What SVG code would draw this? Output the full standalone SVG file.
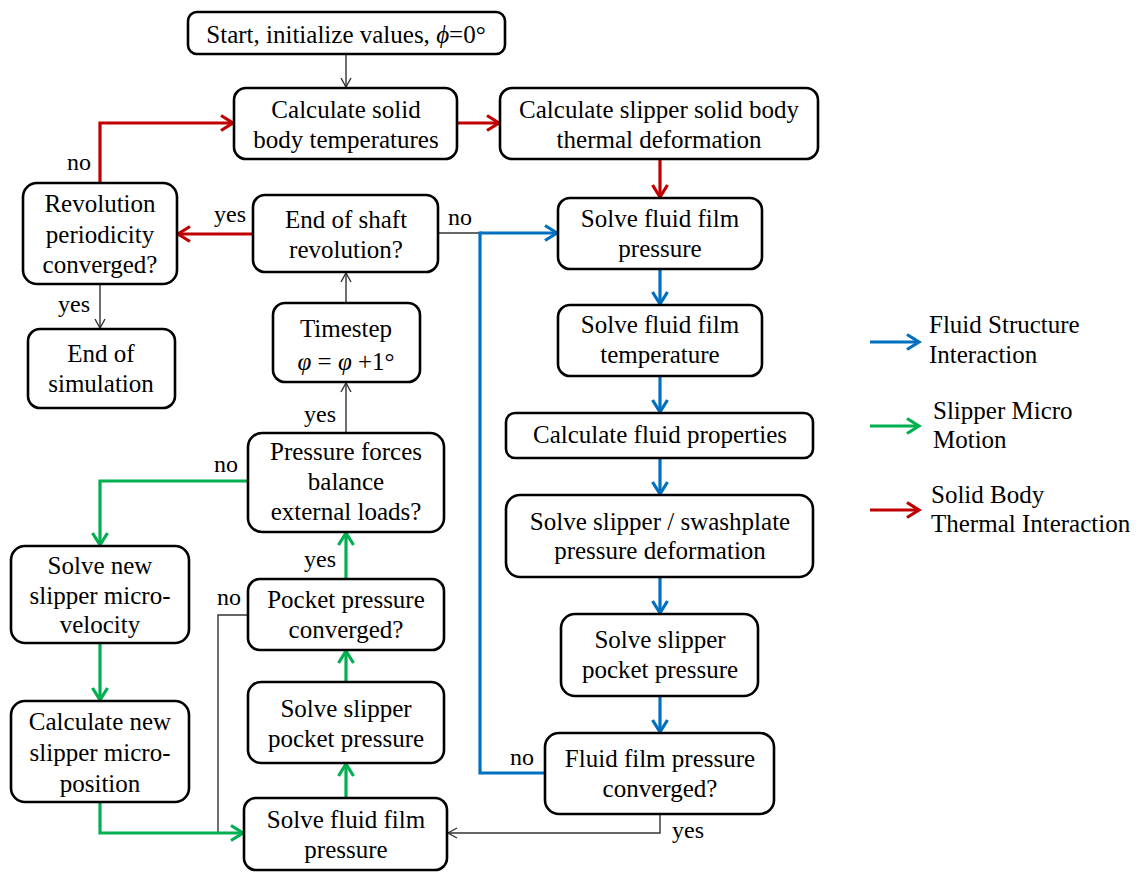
<svg xmlns="http://www.w3.org/2000/svg" width="1144" height="878" viewBox="0 0 1144 878">
  <style>
    .box { fill: #ffffff; stroke: #000000; stroke-width: 2.6; }
    .t { font-family: "Liberation Serif", "Times New Roman", serif; font-size: 25px; fill: #000000; text-anchor: middle; }
    .lbl { font-family: "Liberation Serif", "Times New Roman", serif; font-size: 24px; fill: #000000; }
    .leg { font-family: "Liberation Serif", "Times New Roman", serif; font-size: 25px; fill: #000000; }
    .thin { fill: none; stroke: #333333; stroke-width: 1.4; }
    .red { fill: none; stroke: #C00000; stroke-width: 3.2; }
    .blue { fill: none; stroke: #0070C0; stroke-width: 3.2; }
    .green { fill: none; stroke: #00B050; stroke-width: 3.2; }
    .it { font-style: italic; }
  </style>
  <defs>
    <marker id="ah-black" markerUnits="userSpaceOnUse" markerWidth="14" markerHeight="14" refX="10" refY="6" orient="auto">
      <path d="M1,1 L10,6 L1,11" fill="none" stroke="#333333" stroke-width="1.4"/>
    </marker>
    <marker id="ah-red" markerUnits="userSpaceOnUse" markerWidth="18" markerHeight="20" refX="14" refY="9" orient="auto">
      <path d="M2,1.5 L14,9 L2,16.5" fill="none" stroke="#C00000" stroke-width="3.2"/>
    </marker>
    <marker id="ah-blue" markerUnits="userSpaceOnUse" markerWidth="18" markerHeight="20" refX="14" refY="9" orient="auto">
      <path d="M2,1.5 L14,9 L2,16.5" fill="none" stroke="#0070C0" stroke-width="3.2"/>
    </marker>
    <marker id="ah-green" markerUnits="userSpaceOnUse" markerWidth="18" markerHeight="20" refX="14" refY="9" orient="auto">
      <path d="M2,1.5 L14,9 L2,16.5" fill="none" stroke="#00B050" stroke-width="3.2"/>
    </marker>
  </defs>

  <rect width="1144" height="878" fill="#ffffff"/>

  <!-- connectors -->
  <g id="connectors">
    <!-- main thread (thin black) -->
    <path class="thin" d="M346,54 L346,87" marker-end="url(#ah-black)"/>
    <path class="thin" d="M100,284 L100,328" marker-end="url(#ah-black)"/>
    <path class="thin" d="M346,303 L346,273" marker-end="url(#ah-black)"/>
    <path class="thin" d="M346,433 L346,383" marker-end="url(#ah-black)"/>
    <path class="thin" d="M438,233 L481,233"/>
    <path class="thin" d="M248,615 L218,615 L218,833"/>
    <path class="thin" d="M660,814 L660,833 L448,833" marker-end="url(#ah-black)"/>

    <!-- solid body thermal interaction -->
    <path class="red" d="M457,123 L499,123" marker-end="url(#ah-red)"/>
    <path class="red" d="M660,159 L660,197" marker-end="url(#ah-red)"/>
    <path class="red" d="M253,234 L178,234" marker-end="url(#ah-red)"/>
    <path class="red" d="M100,183 L100,123 L233,123" marker-end="url(#ah-red)"/>

    <!-- fluid structure interaction -->
    <path class="blue" d="M480,233 L557,233" marker-end="url(#ah-blue)"/>
    <path class="blue" d="M545,773 L480,773 L480,231.4"/>
    <path class="blue" d="M660,269 L660,304" marker-end="url(#ah-blue)"/>
    <path class="blue" d="M660,376 L660,412" marker-end="url(#ah-blue)"/>
    <path class="blue" d="M660,458 L660,494" marker-end="url(#ah-blue)"/>
    <path class="blue" d="M660,577 L660,613" marker-end="url(#ah-blue)"/>
    <path class="blue" d="M660,696 L660,732" marker-end="url(#ah-blue)"/>

    <!-- slipper micro motion -->
    <path class="green" d="M248,481 L100,481 L100,545" marker-end="url(#ah-green)"/>
    <path class="green" d="M100,643 L100,700" marker-end="url(#ah-green)"/>
    <path class="green" d="M100,802 L100,833 L243,833" marker-end="url(#ah-green)"/>
    <path class="green" d="M346,798 L346,764" marker-end="url(#ah-green)"/>
    <path class="green" d="M346,682 L346,651" marker-end="url(#ah-green)"/>
    <path class="green" d="M346,579 L346,533" marker-end="url(#ah-green)"/>

    <!-- branch labels -->
    <text class="lbl" x="67" y="170">no</text>
    <text class="lbl" x="214" y="222">yes</text>
    <text class="lbl" x="448" y="225">no</text>
    <text class="lbl" x="58" y="312">yes</text>
    <text class="lbl" x="304" y="422">yes</text>
    <text class="lbl" x="214" y="472">no</text>
    <text class="lbl" x="304" y="567">yes</text>
    <text class="lbl" x="217" y="605">no</text>
    <text class="lbl" x="510" y="765">no</text>
    <text class="lbl" x="672" y="838">yes</text>
  </g>

  <!-- nodes -->
  <g id="start">
    <rect class="box" x="188" y="12" width="317" height="42" rx="9"/>
    <text class="t" x="346" y="43">Start, initialize values, <tspan class="it">ϕ</tspan>=0°</text>
  </g>
  <g id="calc-solid-temp">
    <rect class="box" x="234" y="88" width="223" height="71" rx="12"/>
    <text class="t" x="346" y="118">Calculate solid</text>
    <text class="t" x="346" y="148">body temperatures</text>
  </g>
  <g id="calc-thermal-deform">
    <rect class="box" x="500" y="88" width="318" height="71" rx="12"/>
    <text class="t" x="659" y="118">Calculate slipper solid body</text>
    <text class="t" x="659" y="148">thermal deformation</text>
  </g>
  <g id="revolution-converged">
    <rect class="box" x="23" y="183" width="154" height="101" rx="14"/>
    <text class="t" x="100" y="212">Revolution</text>
    <text class="t" x="100" y="243">periodicity</text>
    <text class="t" x="100" y="273">converged?</text>
  </g>
  <g id="end-of-revolution">
    <rect class="box" x="253" y="195" width="185" height="77" rx="12"/>
    <text class="t" x="346" y="228">End of shaft</text>
    <text class="t" x="346" y="258">revolution?</text>
  </g>
  <g id="end-of-simulation">
    <rect class="box" x="28" y="329" width="147" height="79" rx="12"/>
    <text class="t" x="101" y="362">End of</text>
    <text class="t" x="101" y="392">simulation</text>
  </g>
  <g id="timestep">
    <rect class="box" x="273" y="303" width="147" height="79" rx="12"/>
    <text class="t" x="346" y="337">Timestep</text>
    <text class="t" x="346" y="370"><tspan class="it">φ</tspan> = <tspan class="it">φ</tspan> +1°</text>
  </g>
  <g id="pressure-forces-balance">
    <rect class="box" x="248" y="433" width="196" height="99" rx="14"/>
    <text class="t" x="346" y="460">Pressure forces</text>
    <text class="t" x="346" y="490">balance</text>
    <text class="t" x="346" y="520">external loads?</text>
  </g>
  <g id="new-micro-velocity">
    <rect class="box" x="11" y="546" width="178" height="97" rx="14"/>
    <text class="t" x="100" y="574">Solve new</text>
    <text class="t" x="100" y="604">slipper micro-</text>
    <text class="t" x="100" y="633">velocity</text>
  </g>
  <g id="new-micro-position">
    <rect class="box" x="11" y="701" width="178" height="101" rx="14"/>
    <text class="t" x="100" y="730">Calculate new</text>
    <text class="t" x="100" y="761">slipper micro-</text>
    <text class="t" x="100" y="792">position</text>
  </g>
  <g id="pocket-converged">
    <rect class="box" x="248" y="579" width="196" height="71" rx="12"/>
    <text class="t" x="346" y="608">Pocket pressure</text>
    <text class="t" x="346" y="638">converged?</text>
  </g>
  <g id="pocket-pressure-inner">
    <rect class="box" x="248" y="682" width="196" height="81" rx="13"/>
    <text class="t" x="346" y="717">Solve slipper</text>
    <text class="t" x="346" y="747">pocket pressure</text>
  </g>
  <g id="film-pressure-inner">
    <rect class="box" x="244" y="798" width="203" height="72" rx="12"/>
    <text class="t" x="346" y="828">Solve fluid film</text>
    <text class="t" x="346" y="858">pressure</text>
  </g>
  <g id="film-pressure">
    <rect class="box" x="558" y="198" width="204" height="71" rx="12"/>
    <text class="t" x="660" y="227">Solve fluid film</text>
    <text class="t" x="660" y="257">pressure</text>
  </g>
  <g id="film-temperature">
    <rect class="box" x="558" y="305" width="204" height="71" rx="12"/>
    <text class="t" x="660" y="333">Solve fluid film</text>
    <text class="t" x="660" y="363">temperature</text>
  </g>
  <g id="fluid-properties">
    <rect class="box" x="506" y="413" width="307" height="45" rx="9"/>
    <text class="t" x="660" y="443">Calculate fluid properties</text>
  </g>
  <g id="pressure-deformation">
    <rect class="box" x="506" y="495" width="307" height="82" rx="14"/>
    <text class="t" x="660" y="530">Solve slipper / swashplate</text>
    <text class="t" x="660" y="559">pressure deformation</text>
  </g>
  <g id="pocket-pressure">
    <rect class="box" x="561" y="614" width="197" height="82" rx="14"/>
    <text class="t" x="660" y="648">Solve slipper</text>
    <text class="t" x="660" y="678">pocket pressure</text>
  </g>
  <g id="film-converged">
    <rect class="box" x="545" y="733" width="229" height="81" rx="14"/>
    <text class="t" x="660" y="767">Fluid film pressure</text>
    <text class="t" x="660" y="797">converged?</text>
  </g>

  <!-- legend -->
  <g id="legend">
    <path class="blue" d="M870,342 L919,342" marker-end="url(#ah-blue)"/>
    <text class="leg" x="929" y="333">Fluid Structure</text>
    <text class="leg" x="929" y="363">Interaction</text>
    <path class="green" d="M870,426 L919,426" marker-end="url(#ah-green)"/>
    <text class="leg" x="933" y="419">Slipper Micro</text>
    <text class="leg" x="933" y="448">Motion</text>
    <path class="red" d="M870,510 L919,510" marker-end="url(#ah-red)"/>
    <text class="leg" x="931" y="503">Solid Body</text>
    <text class="leg" x="931" y="532">Thermal Interaction</text>
  </g>
</svg>
